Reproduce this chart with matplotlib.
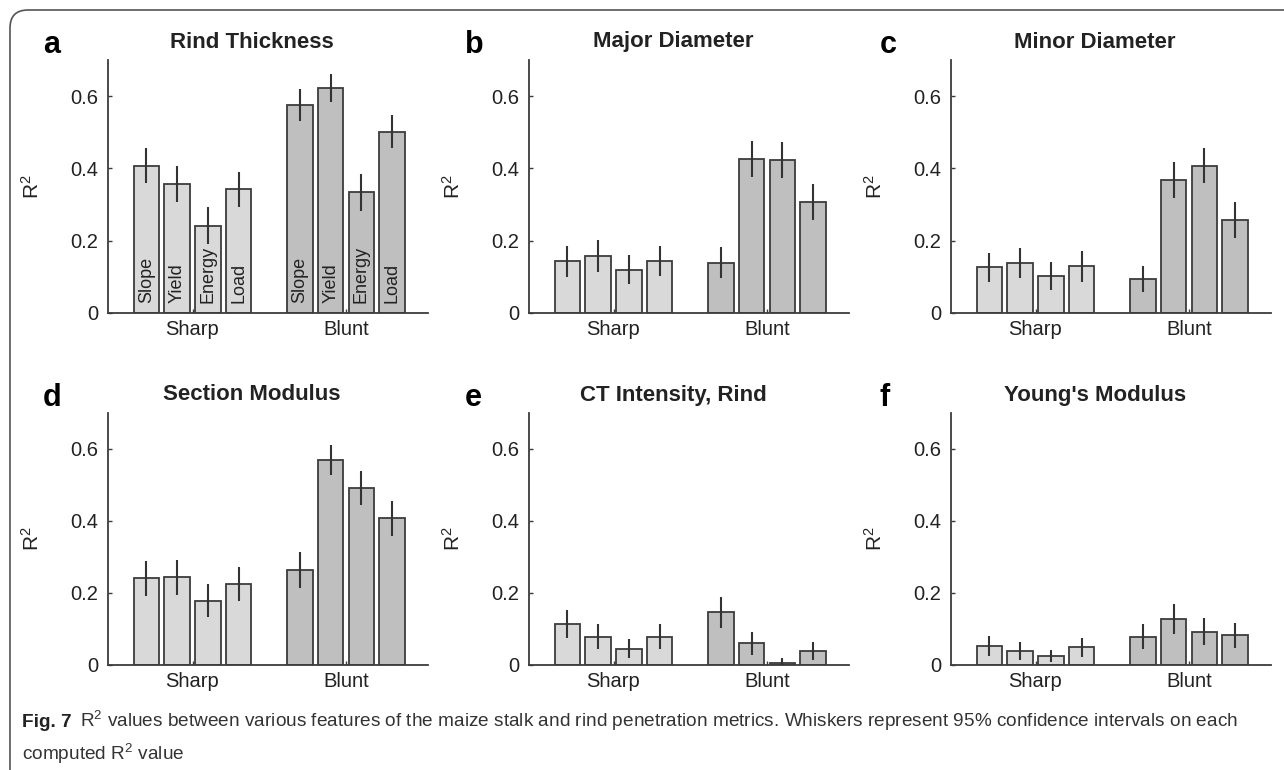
import numpy as np
import matplotlib.pyplot as plt
from matplotlib.patches import FancyBboxPatch
from matplotlib.transforms import IdentityTransform

#==============================================================================
# data
#==============================================================================

groups  = ['Sharp', 'Blunt']
metrics = ['Slope', 'Yield', 'Energy', 'Load']

titles  = ['Rind Thickness', 'Major Diameter', 'Minor Diameter',
           'Section Modulus', 'CT Intensity, Rind', "Young's Modulus"]
letters = ['a', 'b', 'c', 'd', 'e', 'f']

# R^2 per panel: [sharp x4, blunt x4]
r2_rind    = [0.408, 0.356, 0.242, 0.342, 0.575, 0.622, 0.334, 0.502]
r2_major   = [0.143, 0.157, 0.120, 0.143, 0.139, 0.427, 0.423, 0.307]
r2_minor   = [0.126, 0.139, 0.103, 0.129, 0.094, 0.367, 0.408, 0.257]
r2_section = [0.241, 0.244, 0.179, 0.225, 0.264, 0.570, 0.492, 0.407]
r2_ct      = [0.113, 0.079, 0.045, 0.079, 0.146, 0.060, 0.005, 0.040]
r2_young   = [0.053, 0.039, 0.025, 0.049, 0.079, 0.127, 0.093, 0.083]

# half width of the 95% confidence whiskers
ci_rind    = [0.049, 0.050, 0.051, 0.049, 0.044, 0.039, 0.051, 0.046]
ci_major   = [0.043, 0.044, 0.041, 0.042, 0.043, 0.050, 0.050, 0.049]
ci_minor   = [0.041, 0.042, 0.039, 0.042, 0.037, 0.050, 0.049, 0.050]
ci_section = [0.049, 0.049, 0.045, 0.048, 0.050, 0.042, 0.048, 0.049]
ci_ct      = [0.039, 0.035, 0.026, 0.034, 0.042, 0.031, 0.015, 0.025]
ci_young   = [0.028, 0.025, 0.018, 0.026, 0.034, 0.042, 0.037, 0.035]

r2_all = [r2_rind, r2_major, r2_minor, r2_section, r2_ct, r2_young]
ci_all = [ci_rind, ci_major, ci_minor, ci_section, ci_ct, ci_young]

yticks      = [0, 0.2, 0.4, 0.6]
ytick_texts = ['0', '0.2', '0.4', '0.6']

#==============================================================================
# style
#==============================================================================

c_sharp = '#d9d9d9'
c_blunt = '#bfbfbf'
c_edge  = '#3c3c3c'
c_err   = '#333333'
c_text  = '#222222'

plt.rcParams['font.family'] = ['Liberation Sans', 'DejaVu Sans']
plt.rcParams['mathtext.fontset'] = 'custom'
plt.rcParams['mathtext.rm'] = 'Liberation Sans'
plt.rcParams['mathtext.it'] = 'Liberation Sans'
plt.rcParams['mathtext.bf'] = 'Liberation Sans:bold'

W, H = 1284, 770
fig = plt.figure(figsize=(W / 100, H / 100), dpi=100)

# axes placement in pixels: left edges, zero line and top of each row
lefts_px  = [108, 529, 951]
letter_px = [43, 465, 880]
rows_px   = [(313, 60), (665, 413)]
width_px  = 320

offsets = np.array([-0.3, -0.1, 0.1, 0.3])
bar_w   = 0.165

for k in range(6):
    row, col = divmod(k, 3)
    y0, y1 = rows_px[row]
    ax = fig.add_axes([lefts_px[col] / W, 1 - y0 / H,
                       width_px / W, (y0 - y1) / H])

    vals = np.array(r2_all[k])
    errs = np.array(ci_all[k])
    for g in range(2):
        xs = g + 1 + offsets
        v = vals[4 * g:4 * g + 4]
        e = errs[4 * g:4 * g + 4]
        ax.bar(xs, v, width=bar_w, color=c_sharp if g == 0 else c_blunt,
               edgecolor=c_edge, linewidth=1.3, zorder=2)
        ax.vlines(xs, v - e, v + e, color=c_err, linewidth=1.5, zorder=3)
        if k == 0:
            for x, name in zip(xs, metrics):
                ax.text(x, 0.028, name, rotation=90, ha='center', va='bottom',
                        fontsize=13, color=c_text, zorder=4)

    ax.set_xlim(0.4495, 2.534)
    ax.set_ylim(0, 0.7)
    ax.set_yticks(yticks)
    ax.set_yticklabels(ytick_texts)
    ax.set_xticks([1, 2])
    ax.set_xticklabels(groups)
    ax.tick_params(axis='both', direction='in', length=3, width=1,
                   color=c_edge, labelsize=14.5, labelcolor=c_text)
    ax.tick_params(axis='y', pad=7)
    ax.tick_params(axis='x', pad=5)

    for s in ['top', 'right']:
        ax.spines[s].set_visible(False)
    for s in ['left', 'bottom']:
        ax.spines[s].set_color(c_edge)
        ax.spines[s].set_linewidth(1.3)
    ax.patch.set_alpha(0)

    ax.set_ylabel(r'R$^2$', fontsize=15, color=c_text)
    ax.yaxis.set_label_coords(-65 / width_px, 0.5)

    ax.text(0.45, 1 + 18 / (y0 - y1), titles[k], transform=ax.transAxes,
            ha='center', va='center', fontsize=16, fontweight='bold',
            color=c_text)
    fig.text(letter_px[col] / W, 1 - (y1 - 7) / H, letters[k],
             ha='left', va='baseline', fontsize=22, fontweight='bold',
             color='black')

# rounded frame round the figure
frame = FancyBboxPatch((10, -30), 1320, 790, boxstyle='round,pad=0,rounding_size=18',
                       transform=IdentityTransform(), facecolor='none',
                       edgecolor='#555555', linewidth=1.2)
fig.patches.append(frame)

# caption, sized so that the first line spans the frame like in the print
cap_size = 12.5
fig_lbl = fig.text(22 / W, 1 - 727 / H, 'Fig. 7', fontsize=cap_size, fontweight='bold',
                   ha='left', va='baseline', color='#222222')
cap1 = fig.text(0, 1 - 727 / H,
                r'R$^2$ values between various features of the maize stalk and rind '
                'penetration metrics. Whiskers represent 95% confidence intervals on each',
                fontsize=cap_size, ha='left', va='baseline', color='#333333')
cap2 = fig.text(22 / W, 1 - 760 / H, r'computed R$^2$ value', fontsize=cap_size,
                ha='left', va='baseline', color='#333333')
fig.canvas.draw()
r = fig.canvas.get_renderer()
w_all = fig_lbl.get_window_extent(r).width + 8 + cap1.get_window_extent(r).width
cap_size *= (1240 - 22) / w_all
for t in (fig_lbl, cap1, cap2):
    t.set_fontsize(cap_size)
fig.canvas.draw()
bb = fig_lbl.get_window_extent(r)
cap1.set_x((bb.x1 + 8) / W)

fig.savefig('out.png', dpi=100, facecolor='white')
